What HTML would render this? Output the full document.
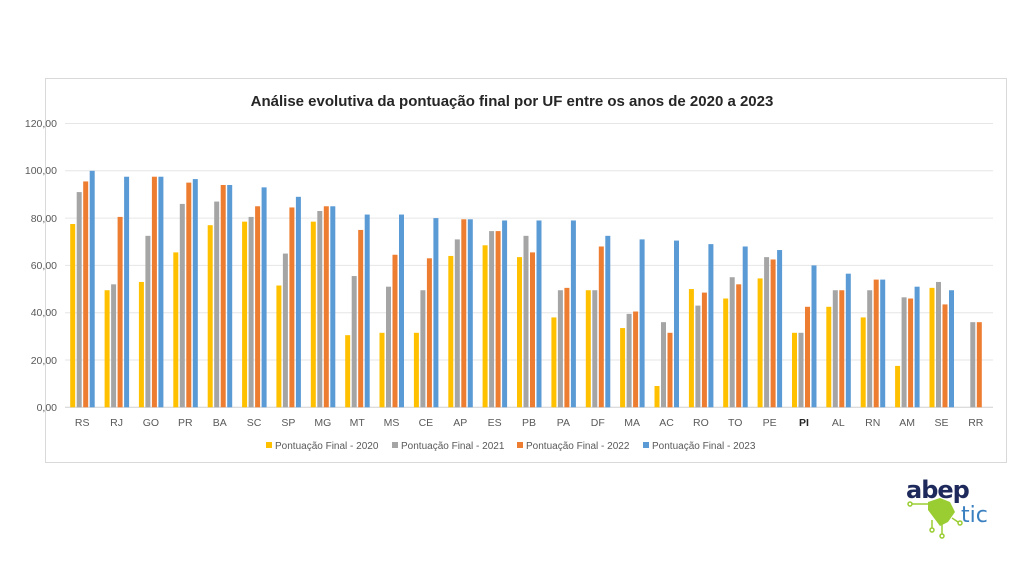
<!DOCTYPE html>
<html><head><meta charset="utf-8"><style>
html,body{margin:0;padding:0;background:#fff;width:1024px;height:576px;overflow:hidden}
svg{display:block;font-family:"Liberation Sans",sans-serif}
.a{fill:#FFC000}.b{fill:#A5A5A5}.c{fill:#ED7D31}.d{fill:#5B9BD5}
.yl{font-size:10.5px;fill:#595959;text-anchor:end}
.xl{font-size:10.5px;fill:#595959;text-anchor:middle}
.lg{font-size:10px;fill:#595959}
</style></head><body>
<svg width="1024" height="576" viewBox="0 0 1024 576">
<rect x="45.5" y="78.5" width="961" height="384" fill="#fff" stroke="#d9d9d9"/>
<text x="512" y="106" text-anchor="middle" font-size="15" font-weight="bold" fill="#262626">Análise evolutiva da pontuação final por UF entre os anos de 2020 a 2023</text>
<g stroke="#e6e6e6" stroke-width="1">
<line x1="65" x2="993" y1="123.5" y2="123.5"/><line x1="65" x2="993" y1="170.8" y2="170.8"/>
<line x1="65" x2="993" y1="218.1" y2="218.1"/><line x1="65" x2="993" y1="265.4" y2="265.4"/>
<line x1="65" x2="993" y1="312.7" y2="312.7"/><line x1="65" x2="993" y1="360" y2="360"/>
<line x1="65" x2="993" y1="407.3" y2="407.3" stroke="#d0d0d0"/>
</g>
<g class="yl">
<text x="57" y="127">120,00</text><text x="57" y="174">100,00</text><text x="57" y="222">80,00</text>
<text x="57" y="269">60,00</text><text x="57" y="316">40,00</text><text x="57" y="364">20,00</text><text x="57" y="411">0,00</text>
</g>
<g transform="translate(82.2 407.3) scale(1 -2.365)"><rect class="a" x="-12" width="5" height="77.5"/><rect class="b" x="-5.5" width="5" height="91"/><rect class="c" x="1" width="5" height="95.5"/><rect class="d" x="7.5" width="5" height="100"/></g>
<g transform="translate(116.6 407.3) scale(1 -2.365)"><rect class="a" x="-12" width="5" height="49.5"/><rect class="b" x="-5.5" width="5" height="52"/><rect class="c" x="1" width="5" height="80.5"/><rect class="d" x="7.5" width="5" height="97.5"/></g>
<g transform="translate(150.9 407.3) scale(1 -2.365)"><rect class="a" x="-12" width="5" height="53"/><rect class="b" x="-5.5" width="5" height="72.5"/><rect class="c" x="1" width="5" height="97.5"/><rect class="d" x="7.5" width="5" height="97.5"/></g>
<g transform="translate(185.3 407.3) scale(1 -2.365)"><rect class="a" x="-12" width="5" height="65.5"/><rect class="b" x="-5.5" width="5" height="86"/><rect class="c" x="1" width="5" height="95"/><rect class="d" x="7.5" width="5" height="96.5"/></g>
<g transform="translate(219.7 407.3) scale(1 -2.365)"><rect class="a" x="-12" width="5" height="77"/><rect class="b" x="-5.5" width="5" height="87"/><rect class="c" x="1" width="5" height="94"/><rect class="d" x="7.5" width="5" height="94"/></g>
<g transform="translate(254.1 407.3) scale(1 -2.365)"><rect class="a" x="-12" width="5" height="78.5"/><rect class="b" x="-5.5" width="5" height="80.5"/><rect class="c" x="1" width="5" height="85"/><rect class="d" x="7.5" width="5" height="93"/></g>
<g transform="translate(288.4 407.3) scale(1 -2.365)"><rect class="a" x="-12" width="5" height="51.5"/><rect class="b" x="-5.5" width="5" height="65"/><rect class="c" x="1" width="5" height="84.5"/><rect class="d" x="7.5" width="5" height="89"/></g>
<g transform="translate(322.8 407.3) scale(1 -2.365)"><rect class="a" x="-12" width="5" height="78.5"/><rect class="b" x="-5.5" width="5" height="83"/><rect class="c" x="1" width="5" height="85"/><rect class="d" x="7.5" width="5" height="85"/></g>
<g transform="translate(357.2 407.3) scale(1 -2.365)"><rect class="a" x="-12" width="5" height="30.5"/><rect class="b" x="-5.5" width="5" height="55.5"/><rect class="c" x="1" width="5" height="75"/><rect class="d" x="7.5" width="5" height="81.5"/></g>
<g transform="translate(391.5 407.3) scale(1 -2.365)"><rect class="a" x="-12" width="5" height="31.5"/><rect class="b" x="-5.5" width="5" height="51"/><rect class="c" x="1" width="5" height="64.5"/><rect class="d" x="7.5" width="5" height="81.5"/></g>
<g transform="translate(425.9 407.3) scale(1 -2.365)"><rect class="a" x="-12" width="5" height="31.5"/><rect class="b" x="-5.5" width="5" height="49.5"/><rect class="c" x="1" width="5" height="63"/><rect class="d" x="7.5" width="5" height="80"/></g>
<g transform="translate(460.3 407.3) scale(1 -2.365)"><rect class="a" x="-12" width="5" height="64"/><rect class="b" x="-5.5" width="5" height="71"/><rect class="c" x="1" width="5" height="79.5"/><rect class="d" x="7.5" width="5" height="79.5"/></g>
<g transform="translate(494.6 407.3) scale(1 -2.365)"><rect class="a" x="-12" width="5" height="68.5"/><rect class="b" x="-5.5" width="5" height="74.5"/><rect class="c" x="1" width="5" height="74.5"/><rect class="d" x="7.5" width="5" height="79"/></g>
<g transform="translate(529 407.3) scale(1 -2.365)"><rect class="a" x="-12" width="5" height="63.5"/><rect class="b" x="-5.5" width="5" height="72.5"/><rect class="c" x="1" width="5" height="65.5"/><rect class="d" x="7.5" width="5" height="79"/></g>
<g transform="translate(563.4 407.3) scale(1 -2.365)"><rect class="a" x="-12" width="5" height="38"/><rect class="b" x="-5.5" width="5" height="49.5"/><rect class="c" x="1" width="5" height="50.5"/><rect class="d" x="7.5" width="5" height="79"/></g>
<g transform="translate(597.8 407.3) scale(1 -2.365)"><rect class="a" x="-12" width="5" height="49.5"/><rect class="b" x="-5.5" width="5" height="49.5"/><rect class="c" x="1" width="5" height="68"/><rect class="d" x="7.5" width="5" height="72.5"/></g>
<g transform="translate(632.1 407.3) scale(1 -2.365)"><rect class="a" x="-12" width="5" height="33.5"/><rect class="b" x="-5.5" width="5" height="39.5"/><rect class="c" x="1" width="5" height="40.5"/><rect class="d" x="7.5" width="5" height="71"/></g>
<g transform="translate(666.5 407.3) scale(1 -2.365)"><rect class="a" x="-12" width="5" height="9"/><rect class="b" x="-5.5" width="5" height="36"/><rect class="c" x="1" width="5" height="31.5"/><rect class="d" x="7.5" width="5" height="70.5"/></g>
<g transform="translate(700.9 407.3) scale(1 -2.365)"><rect class="a" x="-12" width="5" height="50"/><rect class="b" x="-5.5" width="5" height="43"/><rect class="c" x="1" width="5" height="48.5"/><rect class="d" x="7.5" width="5" height="69"/></g>
<g transform="translate(735.2 407.3) scale(1 -2.365)"><rect class="a" x="-12" width="5" height="46"/><rect class="b" x="-5.5" width="5" height="55"/><rect class="c" x="1" width="5" height="52"/><rect class="d" x="7.5" width="5" height="68"/></g>
<g transform="translate(769.6 407.3) scale(1 -2.365)"><rect class="a" x="-12" width="5" height="54.5"/><rect class="b" x="-5.5" width="5" height="63.5"/><rect class="c" x="1" width="5" height="62.5"/><rect class="d" x="7.5" width="5" height="66.5"/></g>
<g transform="translate(804 407.3) scale(1 -2.365)"><rect class="a" x="-12" width="5" height="31.5"/><rect class="b" x="-5.5" width="5" height="31.5"/><rect class="c" x="1" width="5" height="42.5"/><rect class="d" x="7.5" width="5" height="60"/></g>
<g transform="translate(838.3 407.3) scale(1 -2.365)"><rect class="a" x="-12" width="5" height="42.5"/><rect class="b" x="-5.5" width="5" height="49.5"/><rect class="c" x="1" width="5" height="49.5"/><rect class="d" x="7.5" width="5" height="56.5"/></g>
<g transform="translate(872.7 407.3) scale(1 -2.365)"><rect class="a" x="-12" width="5" height="38"/><rect class="b" x="-5.5" width="5" height="49.5"/><rect class="c" x="1" width="5" height="54"/><rect class="d" x="7.5" width="5" height="54"/></g>
<g transform="translate(907.1 407.3) scale(1 -2.365)"><rect class="a" x="-12" width="5" height="17.5"/><rect class="b" x="-5.5" width="5" height="46.5"/><rect class="c" x="1" width="5" height="46"/><rect class="d" x="7.5" width="5" height="51"/></g>
<g transform="translate(941.5 407.3) scale(1 -2.365)"><rect class="a" x="-12" width="5" height="50.5"/><rect class="b" x="-5.5" width="5" height="53"/><rect class="c" x="1" width="5" height="43.5"/><rect class="d" x="7.5" width="5" height="49.5"/></g>
<g transform="translate(975.8 407.3) scale(1 -2.365)"><rect class="b" x="-5.5" width="5" height="36"/><rect class="c" x="1" width="5" height="36"/></g>
<g class="xl">
<text x="82.2" y="426">RS</text><text x="116.6" y="426">RJ</text><text x="150.9" y="426">GO</text><text x="185.3" y="426">PR</text><text x="219.7" y="426">BA</text><text x="254.1" y="426">SC</text><text x="288.4" y="426">SP</text><text x="322.8" y="426">MG</text><text x="357.2" y="426">MT</text><text x="391.5" y="426">MS</text><text x="425.9" y="426">CE</text><text x="460.3" y="426">AP</text><text x="494.6" y="426">ES</text><text x="529" y="426">PB</text><text x="563.4" y="426">PA</text><text x="597.8" y="426">DF</text><text x="632.1" y="426">MA</text><text x="666.5" y="426">AC</text><text x="700.9" y="426">RO</text><text x="735.2" y="426">TO</text><text x="769.6" y="426">PE</text><text x="804" y="426" font-weight="bold" fill="#262626">PI</text><text x="838.3" y="426">AL</text><text x="872.7" y="426">RN</text><text x="907.1" y="426">AM</text><text x="941.5" y="426">SE</text><text x="975.8" y="426">RR</text>
</g>
<g class="lg">
<rect class="a" x="266" y="442" width="6" height="6"/><text x="275" y="449">Pontuação Final - 2020</text>
<rect class="b" x="392" y="442" width="6" height="6"/><text x="401" y="449">Pontuação Final - 2021</text>
<rect class="c" x="517" y="442" width="6" height="6"/><text x="526" y="449">Pontuação Final - 2022</text>
<rect class="d" x="643" y="442" width="6" height="6"/><text x="652" y="449">Pontuação Final - 2023</text>
</g>
<!-- logo -->
<text x="906" y="498" font-size="24" font-weight="bold" fill="#1f2a5c" font-family="DejaVu Sans,sans-serif" letter-spacing="-1">abep</text>
<text x="961" y="522" font-size="22" fill="#3a7fc0" font-family="DejaVu Sans,sans-serif">tic</text>
<path d="M928 502 L940 498 L950 502 L955 512 L948 522 L940 526 L934 518 L928 510Z" fill="#9acd32"/>
<g stroke="#9acd32" stroke-width="1.5" fill="none">
<line x1="912" y1="504" x2="928" y2="504"/><circle cx="910" cy="504" r="2"/>
<line x1="932" y1="520" x2="932" y2="528"/><circle cx="932" cy="530" r="2"/>
<line x1="942" y1="524" x2="942" y2="534"/><circle cx="942" cy="536" r="2"/>
<line x1="952" y1="518" x2="958" y2="522"/><circle cx="960" cy="523" r="2"/>
</g>
</svg>
</body></html>
